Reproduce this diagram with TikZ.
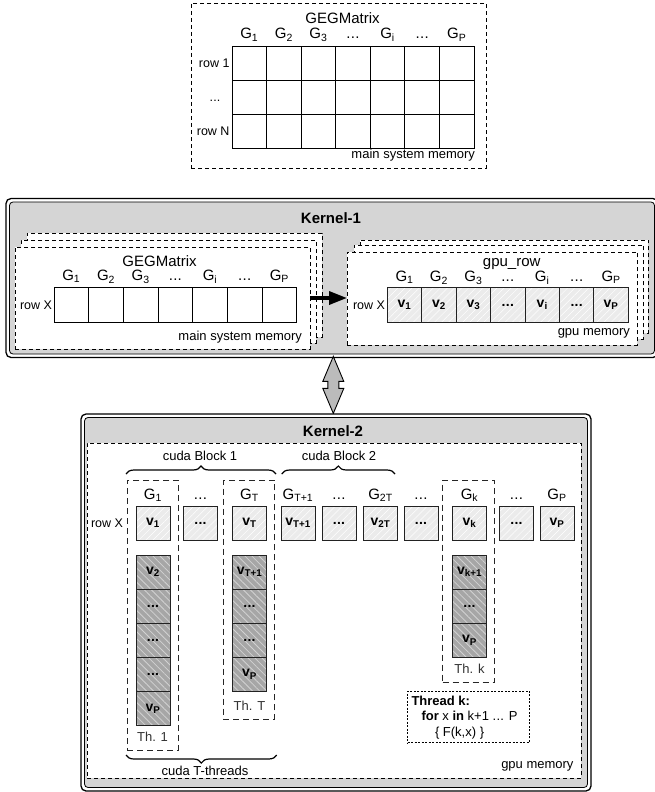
\documentclass[tikz,border=0pt]{standalone}
\usepackage{fontspec}
\setmainfont{Liberation Sans}
\usetikzlibrary{patterns.meta,decorations.pathreplacing,arrows.meta,calc}

\definecolor{kgray}{HTML}{D5D5D5}
\definecolor{lcell}{HTML}{EBEBEB}
\definecolor{dcell}{HTML}{A6A6A6}
\definecolor{dhatch}{HTML}{D2D2D2}
\definecolor{arrgray}{HTML}{BBBBBB}
\definecolor{edge}{HTML}{222222}

\newcommand{\fsz}[1]{\fontsize{#1}{#1}\selectfont}
\newcommand{\Gsub}[1]{G\textsubscript{#1}}
\newcommand{\vsub}[1]{\textbf{v\textsubscript{#1}}}
\newcommand{\ddd}{.\kern0.02em.\kern0.02em.}
\newcommand{\bddd}{\textbf{\ddd}}

% rectangle node from its corners: style, name, x1, y1, x2, y2
\newcommand{\rectnode}[6]{%
  \node[#1, minimum width={(#5)-(#3)}, minimum height={(#6)-(#4)}]
    (#2) at ({((#3)+(#5))/2},{((#4)+(#6))/2}) {};}

\tikzset{
  plain/.style={inner sep=0pt, outer sep=0pt},
  membox/.style={plain, draw=black, line width=0.9pt, dash pattern=on 4pt off 3pt, fill=white},
  kouter/.style={plain, draw=black, line width=1.3pt, rounded corners=5pt, fill=white},
  kinner/.style={plain, draw=black, line width=0.8pt, rounded corners=3.5pt, fill=kgray},
  thbox/.style={plain, draw=black!85, line width=1pt, dash pattern=on 6pt off 4pt},
  codebox/.style={plain, draw=black, line width=0.9pt, dash pattern=on 2pt off 1.5pt, fill=white},
  wcell/.style={plain, draw=black, line width=0.9pt, fill=white},
  lcellst/.style={plain, draw=edge, line width=0.9pt,
     preaction={fill=lcell},
     preaction={pattern={Lines[angle=45,distance=5pt,line width=0.5pt]}, pattern color=white},
     font=\fsz{14}},
  dcellst/.style={plain, draw=edge, line width=0.9pt,
     preaction={fill=dcell},
     preaction={pattern={Lines[angle=-45,distance=5pt,line width=0.8pt]}, pattern color=dhatch},
     font=\fsz{14}},
  lab/.style={plain, anchor=base, font=\fsz{13}},
  glab/.style={plain, anchor=base, font=\fsz{15}},
  rowlab/.style={plain, anchor=base east, font=\fsz{12.5}},
  title/.style={plain, anchor=base, font=\fsz{15}},
  ktitle/.style={plain, anchor=base, font=\fsz{15}\bfseries},
  bigarrow/.style={line width=3.5pt, -{Triangle[length=18pt,width=13pt]}},
  dblarrow/.style={draw=black, line width=0.9pt, fill=arrgray, line join=miter},
  bracest/.style={decorate, decoration={brace, amplitude=8pt}, line width=1.2pt}
}

\begin{document}
\begin{tikzpicture}[x=1pt,y=-1pt]
\useasboundingbox (0,0) rectangle (654,792);

% ================= main system memory: full matrix =================
\rectnode{membox}{topbox}{191}{3}{486}{168}
\foreach \r in {0,1,2}{
  \foreach \c in {0,1,2,3,4,5,6}{
    \node[wcell, minimum width=34.57, minimum height=34.2]
      (t-\r-\c) at ({232+34.57*(\c+0.5)},{46+34.2*(\r+0.5)}) {};
  }
}
\node[title] (ttitle) at (342.5,23.5) {GEGMatrix};
\foreach \c/\t in {0/\Gsub{1},1/\Gsub{2},2/\Gsub{3},3/\ddd,4/\Gsub{i},5/\ddd,6/\Gsub{P}}
  \node[glab] (tg-\c) at ({232+34.57*(\c+0.5)},39) {\t};
\node[rowlab] (trow1) at (229.5,67.7) {row 1};
\node[plain, anchor=base, font=\fsz{12.5}] (trow2) at (215,101.5) {\ddd};
\node[rowlab] (trowN) at (229.5,135.8) {row N};
\node[plain, anchor=base east, font=\fsz{13}] (tmem) at (475,158.3) {main system memory};

% ================= Kernel-1 (runs past the right page edge) =================
\rectnode{kouter}{k1o}{6}{198.5}{658}{357.5}
\rectnode{kinner}{k1}{9.5}{202}{654.5}{354}
\node[ktitle] (k1title) at (331,223.3) {Kernel-1};

% stacked host buffers
\rectnode{membox}{lb3}{27}{233}{322}{337}
\rectnode{membox}{lb2}{21}{240}{316}{343}
\rectnode{membox}{lb1}{15}{247}{310}{349}
\foreach \c in {0,1,2,3,4,5,6}
  \node[wcell, minimum width=34.67, minimum height=34.6]
    (l-\c) at ({54+34.67*(\c+0.5)},305) {};
\node[title] (ltitle) at (159.5,266) {GEGMatrix};
\foreach \c/\t in {0/\Gsub{1},1/\Gsub{2},2/\Gsub{3},3/\ddd,4/\Gsub{i},5/\ddd,6/\Gsub{P}}
  \node[glab] (lg-\c) at ({54+34.67*(\c+0.5)},280.7) {\t};
\node[rowlab] (lrow) at (52,309.3) {row X};
\node[plain, anchor=base east, font=\fsz{13}] (lmem) at (302,340) {main system memory};

% stacked device buffers
\rectnode{membox}{rb3}{360}{240}{648.3}{333}
\rectnode{membox}{rb2}{354}{245}{643.3}{339}
\rectnode{membox}{rb1}{347}{252}{637.3}{345}
\foreach \c/\t in {0/\vsub{1},1/\vsub{2},2/\vsub{3},3/\bddd,4/\vsub{i},5/\bddd,6/\vsub{P}}
  \node[lcellst, minimum width=34.43, minimum height=35]
    (r-\c) at ({387.3+34.43*(\c+0.5)},305) {\t};
\node[title] (rtitle) at (511.7,266) {gpu\_row};
\foreach \c/\t in {0/\Gsub{1},1/\Gsub{2},2/\Gsub{3},3/\ddd,4/\Gsub{i},5/\ddd,6/\Gsub{P}}
  \node[glab] (rg-\c) at ({387.3+34.43*(\c+0.5)},281.7) {\t};
\node[rowlab] (rrow) at (385,309.5) {row X};
\node[plain, anchor=base east, font=\fsz{13}] (rmem) at (630,335) {gpu memory};

% host -> device copy
\draw[bigarrow] (lb1.east) -- (lb1.east -| rb1.west);

% ================= transfer between kernels =================
\coordinate (datop) at (333.3,356.4);
\draw[dblarrow] (datop) -- ++(10.5,25) -- ++(-5,0) -- ++(0,7) -- ++(5,0)
  -- ++(-10.5,25) -- ++(-10.5,-25) -- ++(5,0) -- ++(0,-7) -- ++(-5,0) -- cycle;

% ================= Kernel-2 =================
\rectnode{kouter}{k2o}{81}{414}{591}{791}
\rectnode{kinner}{k2}{84.5}{417.5}{587.5}{787.5}
\rectnode{membox}{gpumem}{87}{443}{581}{778}
\node[ktitle] (k2title) at (333,436.7) {Kernel-2};

% thread boxes
\rectnode{thbox}{th1}{127.3}{480}{178.3}{750}
\rectnode{thbox}{thT}{223.3}{480}{274.3}{719.3}
\rectnode{thbox}{thk}{442.7}{480}{494}{682.7}

% row X
\foreach \i/\x/\t in {1/136/\vsub{1},2/183.5/\bddd,3/232.5/\vsub{T},4/281/\vsub{T+1},
    5/322/\bddd,6/363.5/\vsub{2T},7/404/\bddd,8/452.5/\vsub{k},
    9/499.5/\bddd,10/540/\vsub{P}}
  \node[lcellst, minimum width=34, minimum height=34] (x\i) at ({\x+17},523) {\t};
\foreach \i/\x/\t in {1/136/\Gsub{1},2/183.5/\ddd,3/232.5/\Gsub{T},4/281/\Gsub{T+1},
    5/322/\ddd,6/363.5/\Gsub{2T},7/404/\ddd,8/452.5/\Gsub{k},
    9/499.5/\ddd,10/540/\Gsub{P}}
  \node[glab] (xg\i) at ({\x+17},499.3) {\t};
\node[rowlab] (xrow) at (123,527.3) {row X};

% per-thread columns
\foreach \j/\t in {0/\vsub{2},1/\bddd,2/\bddd,3/\bddd,4/\vsub{P}}
  \node[dcellst, minimum width=34, minimum height=34.1] (a\j) at (153,{555+34.1*(\j+0.5)}) {\t};
\foreach \j/\t in {0/\vsub{T+1},1/\bddd,2/\bddd,3/\vsub{P}}
  \node[dcellst, minimum width=34, minimum height=34.1] (b\j) at (249.5,{555+34.1*(\j+0.5)}) {\t};
\foreach \j/\t in {0/\vsub{k+1},1/\bddd,2/\vsub{P}}
  \node[dcellst, minimum width=34, minimum height=34.1] (c\j) at (469.5,{555+34.1*(\j+0.5)}) {\t};
\node[lab, text=black!80] (th1lab) at (152.5,741.7) {Th. 1};
\node[lab, text=black!80] (thTlab) at (249.5,710) {Th. T};
\node[lab, text=black!80] (thklab) at (469.5,673.3) {Th. k};

% grouping braces
\coordinate (b1l) at (126,474);  \coordinate (b1r) at (276,474);
\coordinate (b2l) at (281.7,474); \coordinate (b2r) at (395,474);
\coordinate (b3l) at (126,755);  \coordinate (b3r) at (276.7,755);
\draw[bracest] (b1l) -- (b1r);
\draw[bracest] (b2l) -- (b2r);
\draw[bracest] (b3r) -- (b3l);
\node[lab] (blk1) at (200,460) {cuda Block 1};
\node[lab] (blk2) at (339,460) {cuda Block 2};
\node[lab] (tthr) at (205,775) {cuda T-threads};

% kernel code
\rectnode{codebox}{code}{407.7}{691}{529.3}{742.7}
\node[plain, anchor=base west, font=\fsz{13}\bfseries] (code1) at (411.5,705) {Thread k:};
\node[plain, anchor=base west, font=\fsz{13}] (code2) at (421.5,720.7) {\textbf{for} x \textbf{in} k+1 \ddd{} P};
\node[plain, anchor=base west, font=\fsz{13}] (code3) at (435,736.7) {\{ F(k,x) \}};

\node[plain, anchor=base east, font=\fsz{13}] (k2mem) at (573.5,768.3) {gpu memory};
\end{tikzpicture}
\end{document}
